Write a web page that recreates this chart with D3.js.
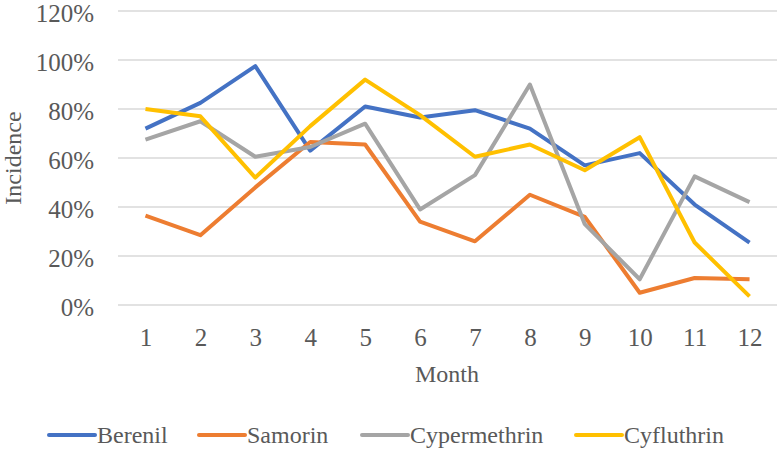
<!DOCTYPE html>
<html>
<head>
<meta charset="utf-8">
<script src="https://cdn.jsdelivr.net/npm/d3@7"></script>
<style>
body { margin: 0; background: #fff; }
text { font-family: "Liberation Serif", "Times New Roman", serif; fill: #595959; }
</style>
</head>
<body>
<div id="chart"></div>
<script>
var width = 780;
var height = 452;

// data
var months = [1, 2, 3, 4, 5, 6, 7, 8, 9, 10, 11, 12];
var seriesNames = ["Berenil", "Samorin", "Cypermethrin", "Cyfluthrin"];
var berenil = [0.72, 0.825, 0.975, 0.63, 0.81, 0.765, 0.795, 0.72, 0.57, 0.62, 0.41, 0.255];
var samorin = [0.365, 0.285, 0.48, 0.665, 0.655, 0.34, 0.26, 0.45, 0.36, 0.05, 0.11, 0.105];
var cypermethrin = [0.675, 0.75, 0.605, 0.645, 0.74, 0.39, 0.53, 0.90, 0.33, 0.105, 0.525, 0.42];
var cyfluthrin = [0.80, 0.77, 0.52, 0.73, 0.92, 0.775, 0.605, 0.655, 0.55, 0.685, 0.255, 0.035];
var yTicks = [0, 0.2, 0.4, 0.6, 0.8, 1.0, 1.2];

var colors = ["#4472C4", "#ED7D31", "#A5A5A5", "#FFC000"];
var allSeries = [berenil, samorin, cypermethrin, cyfluthrin];

var plot = {left: 118, right: 777, top: 11, bottom: 305};

var svg = d3.select("#chart")
	.append("svg")
	.attr("width", width)
	.attr("height", height);

var x = d3.scalePoint()
	.domain(months)
	.range([plot.left, plot.right])
	.padding(0.5);

var y = d3.scaleLinear()
	.domain([0, 1.2])
	.range([plot.bottom, plot.top]);

// gridlines
svg.append("g")
	.selectAll("line").data(yTicks)
	.enter().append("line")
	.attr("x1", plot.left)
	.attr("x2", plot.right)
	.attr("y1", function(d) { return y(d); })
	.attr("y2", function(d) { return y(d); })
	.style("stroke", "#D9D9D9")
	.style("stroke-width", 1.3);

// y axis labels
var yAxis = svg.append("g")
	.attr("transform", "translate(" + 94 + ",0)")
	.call(d3.axisLeft(y).tickValues(yTicks).tickFormat(d3.format(".0%")).tickSize(0).tickPadding(0));
yAxis.select(".domain").remove();
yAxis.selectAll("text")
	.style("font-size", "25px")
	.style("font-family", "Liberation Serif")
	.style("fill", "#595959")
	.attr("dy", "0.4em");

// x axis labels
var xAxis = svg.append("g")
	.attr("transform", "translate(0," + 346 + ")")
	.call(d3.axisBottom(x).tickSize(0).tickPadding(0));
xAxis.select(".domain").remove();
xAxis.selectAll("text")
	.style("font-size", "25px")
	.style("font-family", "Liberation Serif")
	.style("fill", "#595959")
	.attr("dy", "0");

// axis titles
svg.append("text")
	.attr("x", 447)
	.attr("y", 382)
	.attr("text-anchor", "middle")
	.style("font-size", "24px")
	.text("Month");

svg.append("text")
	.attr("transform", "translate(21,158) rotate(-90)")
	.attr("text-anchor", "middle")
	.style("font-size", "24px")
	.text("Incidence");

// lines
var line = d3.line()
	.x(function(d, i) { return x(months[i]); })
	.y(function(d) { return y(d); });

svg.append("g")
	.selectAll("path").data(allSeries)
	.enter().append("path")
	.attr("d", line)
	.style("fill", "none")
	.style("stroke", function(d, i) { return colors[i]; })
	.style("stroke-width", 4)
	.style("stroke-linejoin", "round");

// legend
var legendX = [49, 199, 362, 576];
var legend = svg.append("g")
	.selectAll("g").data(seriesNames)
	.enter().append("g")
	.attr("transform", function(d, i) {
		return "translate(" + legendX[i] + ",435)";
	});

legend.append("line")
	.attr("x1", 0)
	.attr("x2", 46)
	.attr("y1", 0)
	.attr("y2", 0)
	.style("stroke", function(d, i) { return colors[i]; })
	.style("stroke-width", 4)
	.style("stroke-linecap", "round");

legend.append("text")
	.attr("x", 48)
	.attr("y", 8)
	.style("font-size", "24px")
	.text(function(d) { return d; });
</script>
</body>
</html>
